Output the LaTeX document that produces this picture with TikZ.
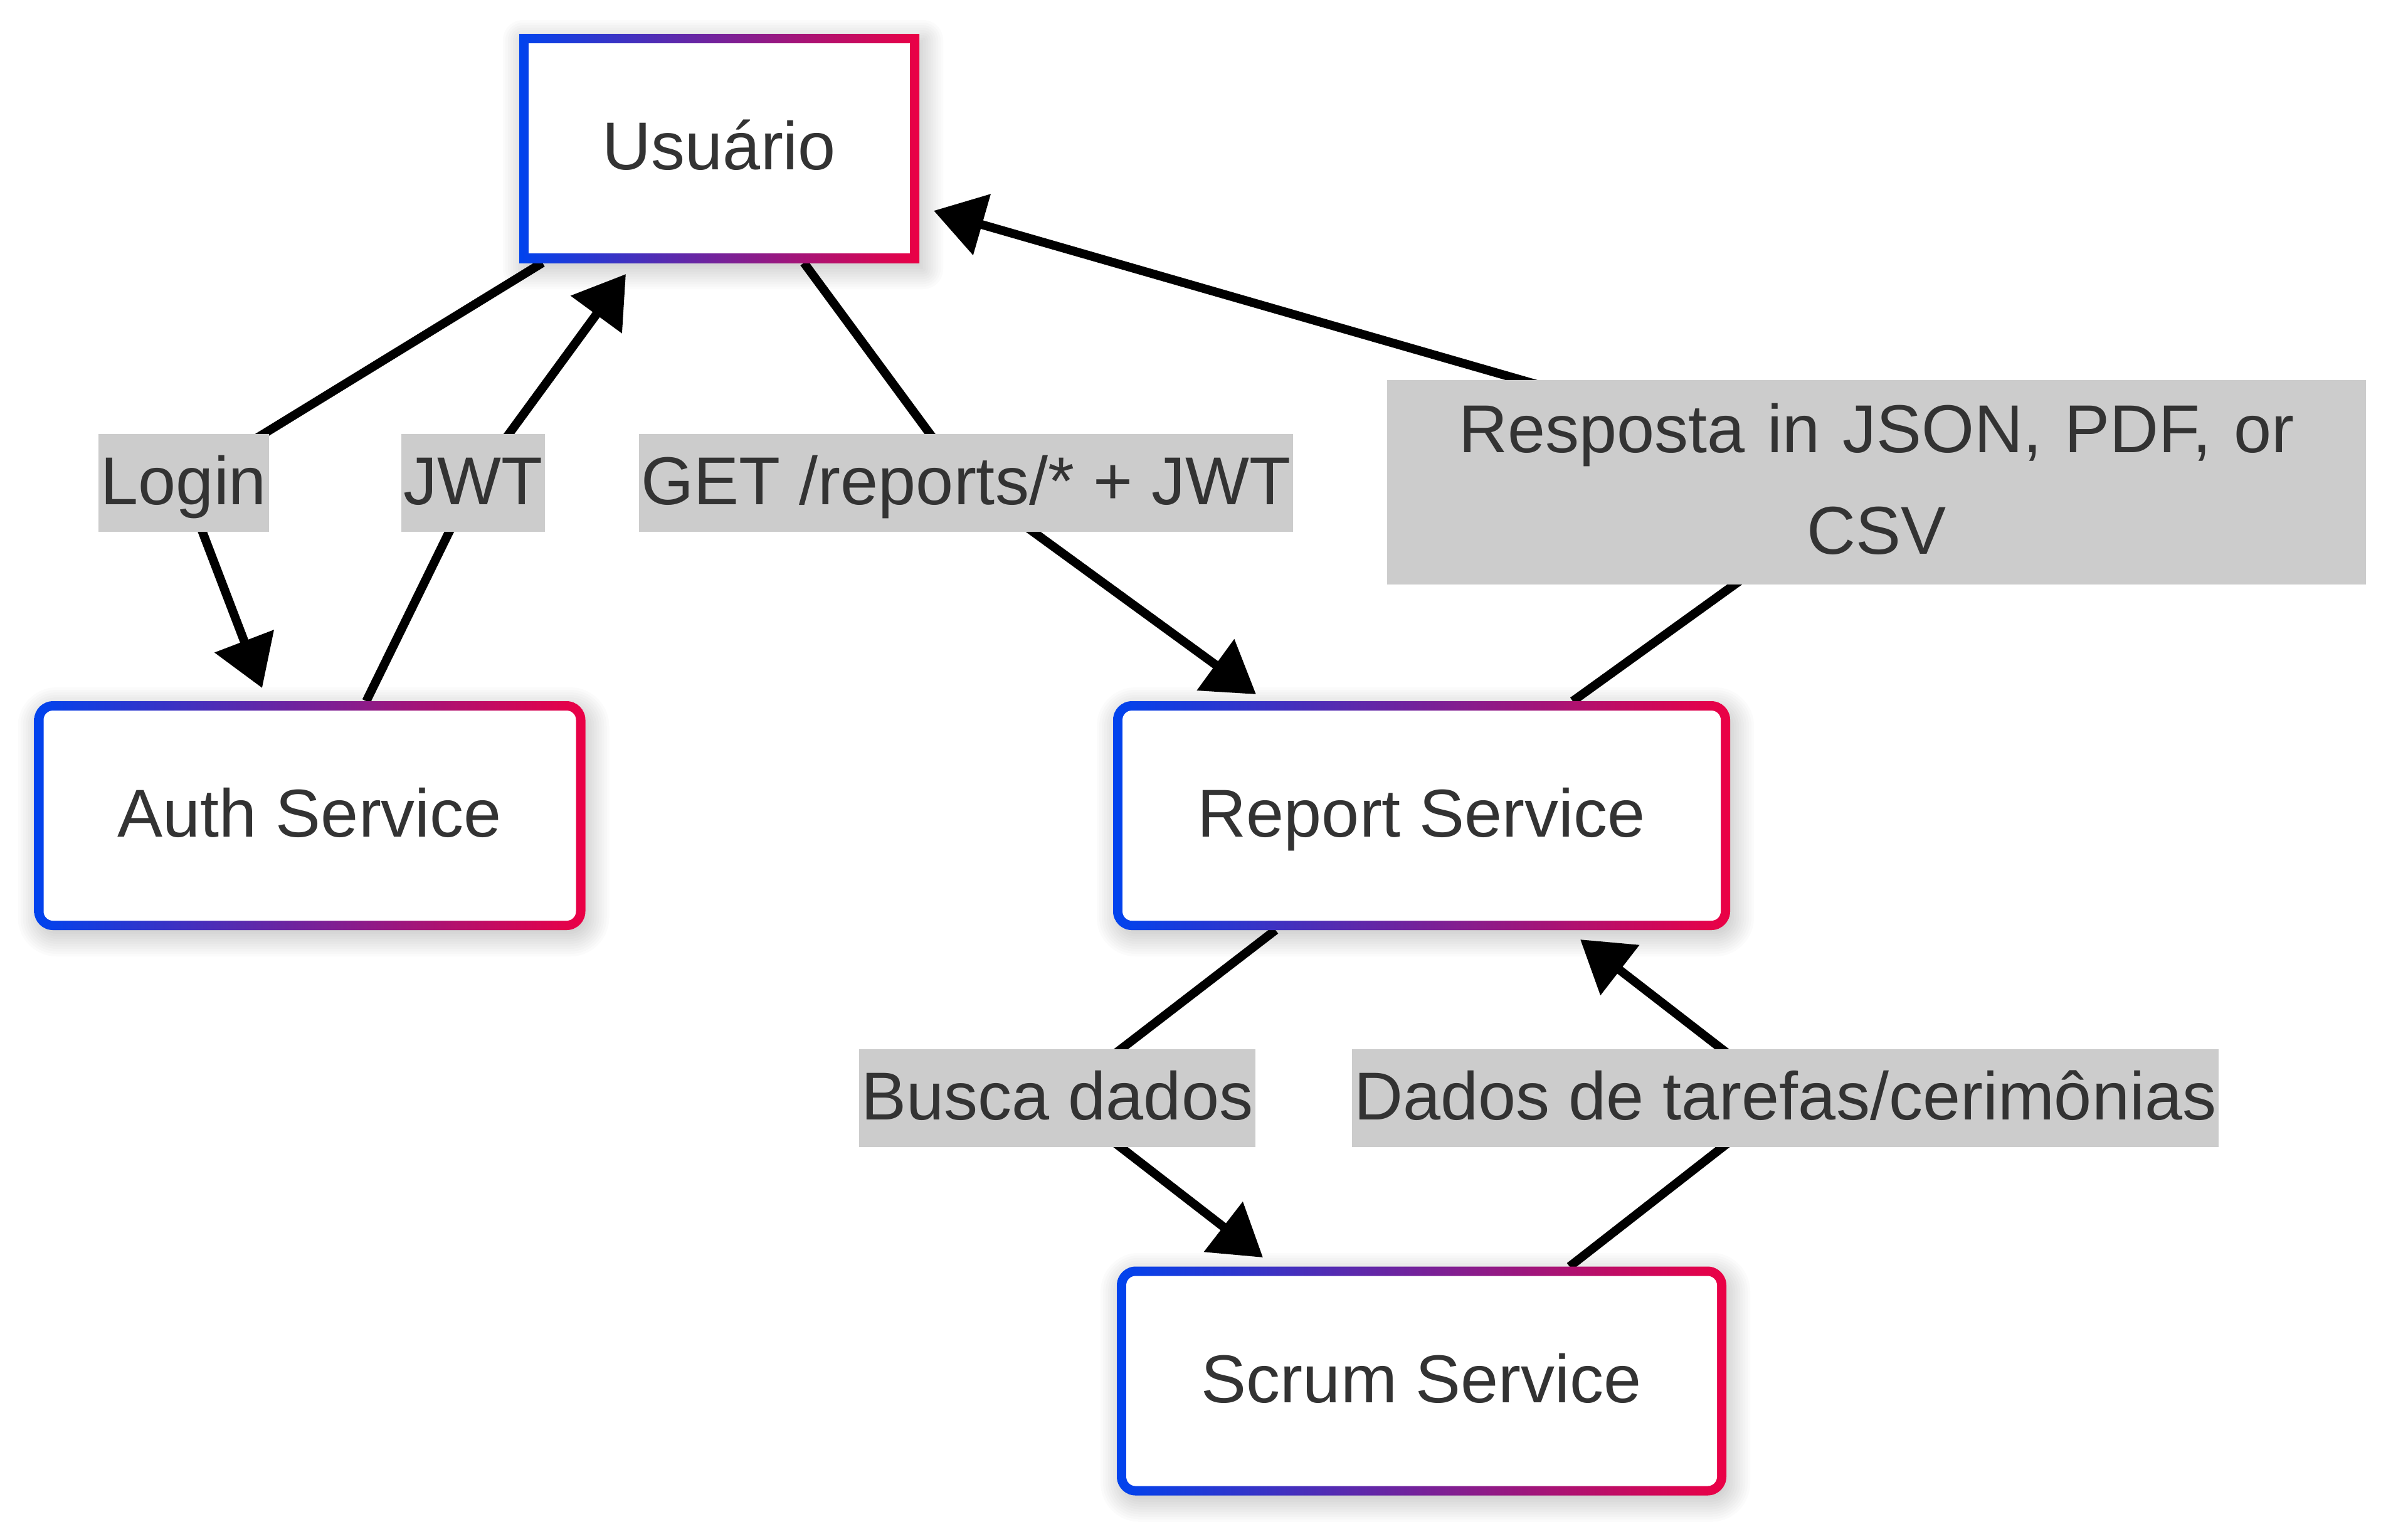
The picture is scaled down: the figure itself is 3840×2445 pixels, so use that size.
\documentclass[tikz,border=0pt]{standalone}
\usepackage{fontspec}
\setmainfont{Liberation Sans}
\usetikzlibrary{arrows.meta}
\definecolor{cblue}{RGB}{0,67,238}
\definecolor{cred}{RGB}{235,0,69}
\definecolor{tcol}{RGB}{51,51,51}
\definecolor{lblgray}{RGB}{204,204,204}
\pgfdeclarelayer{background}
\pgfdeclarelayer{edgelayer}
\pgfsetlayers{background,edgelayer,main}
\tikzset{
  every node/.style={font=\fontsize{27}{40.5}\selectfont, text=tcol},
  nodebox/.style={inner sep=0pt, outer sep=0pt, minimum height=91.25pt,
    text height=28pt, text depth=11pt, left color=cblue, right color=cred},
  roundbox/.style={nodebox, rounded corners=7.5pt,
    path picture={\fill[white, rounded corners=3.75pt]
      ([shift={(15,15)}]path picture bounding box.north west) rectangle
      ([shift={(-15,-15)}]path picture bounding box.south east);}},
  sharpbox/.style={nodebox,
    path picture={\fill[white]
      ([shift={(15,15)}]path picture bounding box.north west) rectangle
      ([shift={(-15,-15)}]path picture bounding box.south east);}},
  lblbase/.style={fill=lblgray, inner xsep=1pt, inner ysep=0pt},
  lbl/.style={lblbase, text height=28pt, text depth=11pt},
  conn/.style={line width=3.5pt, draw=black, rounded corners=8pt,
    -{Triangle[length=20pt,width=24.5pt]}},
}
\begin{document}
\begin{tikzpicture}[x=0.25pt, y=-0.25pt]
\begin{pgfonlayer}{background}
  \fill[white] (0,0) rectangle (3840,2445);
\end{pgfonlayer}
\useasboundingbox (0,0) rectangle (3840,2445);

% nodes
\node[sharpbox, minimum width=159.5pt] (usr) at (1147,236.5) {Usuário};
\node[roundbox, minimum width=219.75pt] (auth) at (494,1300.5) {Auth Service};
\node[roundbox, minimum width=246pt] (rep) at (2267,1300.5) {Report Service};
\node[roundbox, minimum width=243pt] (scrum) at (2267,2202) {Scrum Service};

% edge labels
\node[lbl] (lLogin) at (293,770) {Login};
\node[lbl] (lJWT) at (754.5,770) {JWT};
\node[lbl] (lGET) at (1540.5,770) {GET /reports/* + JWT};
\node[lblbase, text width=388.25pt, align=center, minimum height=81.5pt] (lResp) at (2992.5,769) {Resposta in JSON, PDF, or\\CSV\rule[-3pt]{0pt}{0pt}};
\node[lbl] (lBusca) at (1686,1751) {Busca dados};
\node[lbl] (lDados) at (2847,1751) {Dados de tarefas/cerimônias};

% connectors
\begin{pgfonlayer}{edgelayer}
\draw[conn] ([xshift=9.25pt]usr.south west) -- (lLogin.center) -- ([xshift=90.875pt,yshift=5.25pt]auth.north west);
\draw[conn] ([xshift=132.4pt]auth.north west) -- (lJWT.center) -- ([xshift=42.5pt,yshift=-4.5pt]usr.south west);
\draw[conn] ([xshift=113.5pt]usr.south west) -- (lGET.center) -- ([xshift=57pt,yshift=2.75pt]rep.north west);
\draw[conn] ([xshift=183.25pt]rep.north west) -- (lResp.center) -- ([xshift=5.75pt,yshift=-24.875pt]usr.east);
\draw[conn] ([xshift=64.75pt]rep.south west) -- (lBusca.center) -- ([xshift=58.25pt,yshift=3.625pt]scrum.north west);
\draw[conn] ([xshift=180.5pt]scrum.north west) -- (lDados.center) -- ([xshift=186.25pt,yshift=-3.75pt]rep.south west);
\end{pgfonlayer}

% soft shadows
\begin{pgfonlayer}{background}
\foreach \n/\r in {usr/0, auth/30, rep/30, scrum/30}{
  \foreach \e in {-8,-4,...,32}{
    \pgfmathsetmacro\rr{max(0,\r+\e)*0.25}
    \pgfmathsetmacro\ax{6-\e}
    \pgfmathsetmacro\ay{10-\e}
    \pgfmathsetmacro\bx{6+\e}
    \pgfmathsetmacro\by{10+\e}
    \fill[black, opacity=0.014, rounded corners=\rr pt]
      ([shift={(\ax,\ay)}]\n.north west) rectangle ([shift={(\bx,\by)}]\n.south east);
  }
}
\end{pgfonlayer}
\end{tikzpicture}
\end{document}
